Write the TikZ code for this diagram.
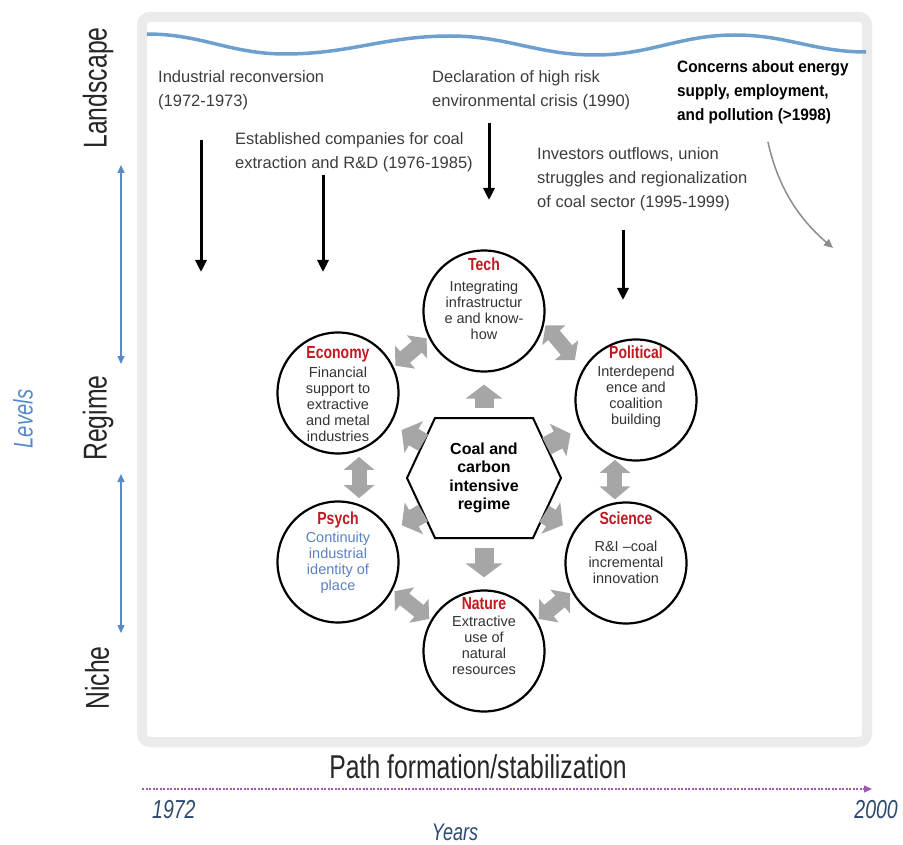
\documentclass[tikz,border=0pt]{standalone}
\usepackage{fontspec}
\setmainfont{Liberation Sans}
\newfontfamily\narrowfont[FakeStretch=0.75]{Liberation Sans}
\newfontfamily\titlefont[FakeStretch=0.8]{Liberation Sans}
\newfontfamily\tightfont[FakeStretch=0.93]{Liberation Sans}
\usetikzlibrary{arrows.meta,positioning}

\definecolor{wavecol}{HTML}{6D9FCF}
\definecolor{framecol}{HTML}{EBEBEB}
\definecolor{domainred}{HTML}{C0191F}
\definecolor{levelblue}{HTML}{5A8AC6}
\definecolor{yearblue}{HTML}{2C4A6E}
\definecolor{psychblue}{HTML}{5B80C4}
\definecolor{pathpurple}{HTML}{9E58B4}
\definecolor{eventgray}{HTML}{3C3C3C}

\tikzset{
    frameline/.style={line width=10pt, draw=framecol, rounded corners=8pt},
    waveline/.style={line width=3.5pt, draw=wavecol},
    levelname/.style={rotate=90, inner sep=0pt, text=black!85, font=\narrowfont\fontsize{33}{36}\selectfont},
    levelarrow/.style={line width=1.3pt, draw=levelblue, {Triangle[length=8pt,width=7pt]}-{Triangle[length=8pt,width=7pt]}},
    event/.style={anchor=north west, inner sep=0pt, align=left, text=eventgray, font=\fontsize{16.5}{24}\selectfont},
    eventarrow/.style={line width=3pt, -{Triangle[length=12pt,width=11pt]}},
    concernarrow/.style={line width=1.5pt, draw=black!45, -{Triangle[length=9pt,width=8pt]}},
    domaincirc/.style={circle, draw, line width=2.2pt, fill=white, minimum size=121pt, inner sep=0pt},
    domaintitle/.style={anchor=base, inner sep=0pt, text=domainred, font=\titlefont\bfseries\fontsize{17.5}{20}\selectfont},
    domaintext/.style={inner sep=0pt, align=center, text=black!80, font=\fontsize{14.5}{16}\selectfont},
    regimetext/.style={circle, minimum size=120pt, inner sep=0pt, align=center, font=\bfseries\fontsize{16}{18.5}\selectfont},
    linkone/.style={line width=19pt, draw=black!35, -{Triangle[length=14pt,width=36pt]}, shorten <=10pt, shorten >=12pt},
    linkboth/.style={line width=15pt, draw=black!35, {Triangle[length=13pt,width=30pt]}-{Triangle[length=13pt,width=30pt]}, shorten <=2pt, shorten >=2pt},
    timeline/.style={line width=1.3pt, draw=pathpurple, dash pattern=on 2pt off 1.5pt, -{Triangle[length=8pt,width=7pt]}},
    yearlabel/.style={inner sep=0pt, text=yearblue, font=\narrowfont\itshape\fontsize{26}{28}\selectfont}
}

\begin{document}
\begin{tikzpicture}[x=1pt, y=-1pt]
    \useasboundingbox (0,0) rectangle (903,845);

    % Draw the frame and the landscape wave
    \draw[frameline] (142,17) rectangle (867,742);
    \draw[waveline] (147,34) to[out=0,in=180] (285,54) to[out=0,in=180] (450,36)
        to[out=0,in=180] (595,55) to[out=0,in=180] (735,35) to[out=0,in=180] (866,52);

    % Levels on the left
    \node[levelname] (landscape) at (98,88) {Landscape};
    \node[levelname] (regimelevel) at (98,418) {Regime};
    \node[levelname] (niche) at (97,678) {Niche};
    \node[rotate=90, inner sep=0pt, text=levelblue, font=\narrowfont\itshape\fontsize{27}{30}\selectfont] (levels) at (23,419) {Levels};
    \coordinate (upper1) at (121,165);
    \coordinate (upper2) at (121,364);
    \coordinate (lower1) at (121,474);
    \coordinate (lower2) at (121,633);
    \draw[levelarrow] (upper1) -- (upper2);
    \draw[levelarrow] (lower1) -- (lower2);

    % Landscape events
    \node[event] (reconversion) at (158,70) {Industrial reconversion\\(1972-1973)};
    \node[event] (companies) at (235,132) {Established companies for coal\\extraction and R\&D (1976-1985)};
    \node[event] (declaration) at (432,70) {Declaration of high risk\\environmental crisis (1990)};
    \node[event, text=black, font=\tightfont\bfseries\fontsize{16.5}{24}\selectfont] (concerns) at (677,60)
        {Concerns about energy\\supply, employment,\\and pollution (>1998)};
    \node[event] (investors) at (537,147) {Investors outflows, union\\struggles and regionalization\\of coal sector (1995-1999)};

    % Arrows pressing down on the regime
    \coordinate (impact1) at (201,272);
    \coordinate (impact2) at (323,272);
    \coordinate (impact3) at (489,200);
    \coordinate (impact4) at (623,300);
    \coordinate (trend) at (833,248);
    \draw[eventarrow, shorten <=30pt] (reconversion.south -| impact1) -- (impact1);
    \draw[eventarrow, shorten <=3pt] (companies.south -| impact2) -- (impact2);
    \draw[eventarrow, shorten <=13pt] (declaration.south -| impact3) -- (impact3);
    \draw[eventarrow, shorten <=19pt] (investors.south -| impact4) -- (impact4);
    \draw[concernarrow] ([xshift=5pt,yshift=-18pt]concerns.south) .. controls +(10,45) and +(-35,-30) .. (trend);

    % Domain circles
    \node[domaincirc] (tech) at (484,311) {};
    \node[domaincirc] (economy) at (338,393) {};
    \node[domaincirc] (political) at (636,400) {};
    \node[domaincirc] (science) at (626,563) {};
    \node[domaincirc] (psych) at (338,562) {};
    \node[domaincirc] (nature) at (484,651) {};

    \foreach \n/\off/\t in {tech/40/Tech, economy/34/Economy, political/41/Political,
                            science/39/Science, psych/38/Psych, nature/42/Nature}
        \node[domaintitle] (\n-name) at ([yshift=\off pt]\n.center) {\t};

    \node[domaintext, below=10pt of tech-name.base] (tech-text) {Integrating\\infrastructur\\e and know-\\how};
    \node[domaintext, below=8pt of economy-name.base] (economy-text) {Financial\\support to\\extractive\\and metal\\industries};
    \node[domaintext, below=7pt of political-name.base] (political-text) {Interdepend\\ence and\\coalition\\building};
    \node[domaintext, below=17pt of science-name.base] (science-text) {R\&I --coal\\incremental\\innovation};
    \node[domaintext, text=psychblue, below=8pt of psych-name.base] (psych-text) {Continuity\\industrial\\identity of\\place};
    \node[domaintext, below=7pt of nature-name.base] (nature-text) {Extractive\\use of\\natural\\resources};

    % Central regime hexagon
    \node[regimetext] (regime) at (484,478) {Coal and\\carbon\\intensive\\regime};
    \draw[line width=2pt, shift={(regime)}] (-77,0) -- (-49,-60) -- (49,-60) -- (77,0) -- (49,60) -- (-49,60) -- cycle;

    % Links between the domains
    \draw[linkboth] (tech.205) -- (economy.25);
    \draw[linkboth, shorten >=12pt] (tech.-12) -- (political.150);
    \draw[linkboth] ([yshift=-4pt]economy.-70) -- ([yshift=4pt]psych.70);
    \draw[linkboth] (political.-110) -- (political.-110 |- science.north);
    \draw[linkboth] (psych.-27) -- (nature.150);
    \draw[linkboth] (nature.30) -- (science.208);

    % Pushes from the regime
    \foreach \d in {tech,economy,political,psych,science,nature}
        \draw[linkone] (regime) -- (\d);

    % Time axis
    \coordinate (tstart) at (142,789);
    \coordinate (tend) at (872,789);
    \draw[timeline] (tstart) -- (tend);
    \node[anchor=base, inner sep=0pt, text=black!85, font=\narrowfont\fontsize{33}{36}\selectfont] (path) at (478,778) {Path formation/stabilization};
    \node[yearlabel, anchor=base west] (first) at (152,818) {1972};
    \node[yearlabel, anchor=base east] (last) at (898,818) {2000};
    \node[yearlabel, anchor=base, font=\narrowfont\itshape\fontsize{24}{26}\selectfont] (years) at (455,840) {Years};

\end{tikzpicture}
\end{document}
